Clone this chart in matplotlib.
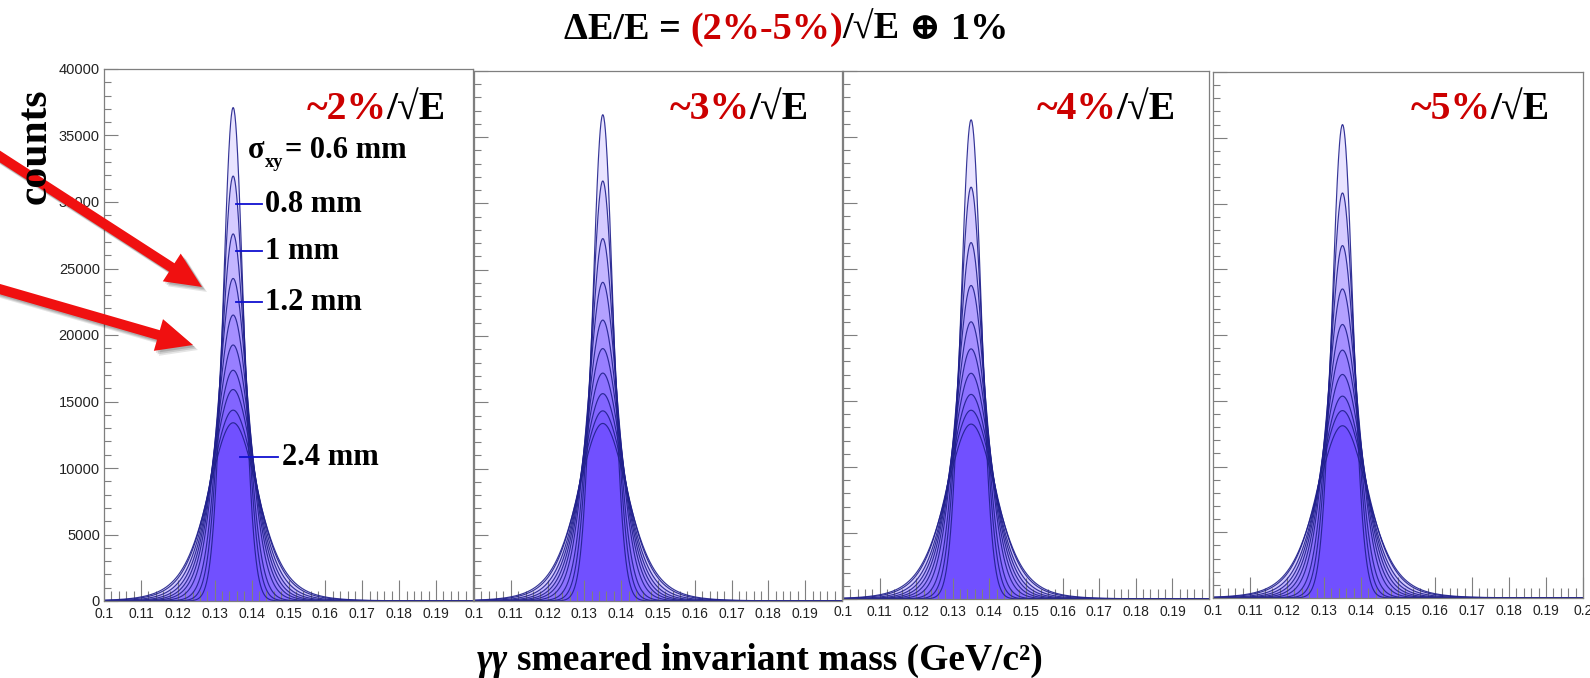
import numpy as np
import matplotlib
matplotlib.use("Agg")
import matplotlib.pyplot as plt
from matplotlib.patches import FancyArrow
from matplotlib.ticker import FixedLocator, MultipleLocator

# ---------------- data ----------------
pi0_mass = 0.135                        # GeV/c^2, peak position
mass_axis = np.linspace(0.1, 0.2, 1001)  # histogram x axis
sigma_xy_mm = ["0.6", "0.8", "1", "1.2", "1.4", "1.6", "1.8", "2.0", "2.2", "2.4"]
resolutions = ["~2%", "~3%", "~4%", "~5%"]

# peak heights (counts) of the ten sigma_xy curves in each panel
peaks_2pct = [37100, 31950, 27600, 24250, 21500, 19250, 17350, 15900, 14350, 13400]
peaks_3pct = [36700, 31700, 27350, 24050, 21200, 19050, 17200, 15650, 14350, 13400]
peaks_4pct = [36300, 31200, 27000, 23750, 21000, 18950, 17100, 15500, 14300, 13250]
peaks_5pct = [36000, 30800, 26800, 23500, 20800, 18850, 17000, 15350, 14250, 13100]

# core widths (GeV/c^2) read from the peak shapes
width_2pct = [0.0027, 0.0031, 0.0035, 0.0040, 0.0044, 0.0048, 0.0052, 0.0056, 0.0061, 0.0064]
width_3pct = [0.00273, 0.00313, 0.00354, 0.00404, 0.00445, 0.00485, 0.00525, 0.00566, 0.00615, 0.00645]
width_4pct = [0.00276, 0.00317, 0.00358, 0.00408, 0.00449, 0.0049, 0.0053, 0.00571, 0.0062, 0.0065]
width_5pct = [0.00279, 0.0032, 0.00361, 0.00412, 0.00453, 0.00494, 0.00535, 0.00577, 0.00626, 0.00656]
# tail heaviness of each curve (large = gaussian-like, small = long tails)
tail_index = [20, 12, 8, 6, 5, 4.5, 4, 3.5, 3.2, 3]

xtick_values = [0.10, 0.11, 0.12, 0.13, 0.14, 0.15, 0.16, 0.17, 0.18, 0.19, 0.20]
xtick_labels = ["0.1", "0.11", "0.12", "0.13", "0.14", "0.15", "0.16", "0.17", "0.18", "0.19", "0.2"]
ytick_values = [0, 5000, 10000, 15000, 20000, 25000, 30000, 35000, 40000]

# ---------------- figure ----------------
W, H = 1590, 678
fig = plt.figure(figsize=(W / 100, H / 100), dpi=100)
SERIF = ["Liberation Serif", "DejaVu Serif"]
SANS = ["Liberation Sans", "DejaVu Sans"]

panel_px = [(104, 69, 473, 601), (474, 71, 842, 601),
            (843, 71, 1209, 599), (1213, 72, 1583, 598)]
label_margin = [27, 33, 33, 33]

all_peaks = [peaks_2pct, peaks_3pct, peaks_4pct, peaks_5pct]
all_widths = [width_2pct, width_3pct, width_4pct, width_5pct]

FILL = (0.19, 0.0, 1.0)
EDGE = "#20208c"
AXCOL = "#7f7f7f"

axes = []
for i, (l, t, r, b) in enumerate(panel_px):
    ax = fig.add_axes([l / W, 1 - b / H, (r - l) / W, (b - t) / H])
    axes.append(ax)
    for pk, sg, m in zip(all_peaks[i], all_widths[i], tail_index):
        y = pk * (1 + ((mass_axis - pi0_mass) / sg) ** 2 / (2 * m)) ** (-m)
        ax.fill_between(mass_axis, 0, y, color=FILL, alpha=0.105, lw=0)
        ax.plot(mass_axis, y, color=EDGE, lw=0.85, alpha=0.9)
    ax.set_xlim(0.1, 0.2)
    ax.set_ylim(0, 40000)
    ax.xaxis.set_major_locator(FixedLocator(xtick_values))
    labels = list(xtick_labels)
    if i < 3:
        labels[-1] = ""
    ax.set_xticklabels(labels)
    ax.xaxis.set_minor_locator(MultipleLocator(0.002))
    ax.yaxis.set_major_locator(FixedLocator(ytick_values))
    ax.yaxis.set_minor_locator(MultipleLocator(1000))
    ax.tick_params(axis="x", which="major", direction="in", length=15, width=0.8,
                   color=AXCOL, pad=4, labelsize=10, labelcolor="#222222")
    ax.tick_params(axis="x", which="minor", direction="in", length=7.5, width=0.8, color=AXCOL)
    ax.tick_params(axis="y", which="major", direction="in", length=10, width=0.8,
                   color=AXCOL, pad=3, labelsize=10.5, labelcolor="#222222")
    ax.tick_params(axis="y", which="minor", direction="in", length=5, width=0.8, color=AXCOL)
    if i > 0:
        ax.set_yticklabels([])
    else:
        ax.set_yticklabels([str(v) for v in ytick_values])
    for lab in ax.get_xticklabels() + ax.get_yticklabels():
        lab.set_family(SANS)
    for sp in ax.spines.values():
        sp.set_color(AXCOL)
        sp.set_linewidth(0.9)

# ---------------- overlay (pixel coordinates) ----------------
over = fig.add_axes([0, 0, 1, 1], zorder=20)
over.set_xlim(0, W)
over.set_ylim(H, 0)
over.axis("off")
over.patch.set_visible(False)

renderer = fig.canvas.get_renderer()


def rich_text(x, y, parts, size, ha="left"):
    """parts: (string, color, style, gap_before_em, size_factor, dy_px)"""
    items = []
    for s, c, st, gap, sf, dy in parts:
        t = over.text(0, y + dy, s, fontsize=size * sf, color=c, fontstyle=st,
                      fontweight="bold", family=SERIF, va="baseline", ha="left")
        w = t.get_window_extent(renderer).width
        items.append((t, w, gap * size * 100 / 72))
    total = sum(w + g for _, w, g in items)
    pos = x - total if ha == "right" else (x - total / 2 if ha == "center" else x)
    for t, w, g in items:
        pos += g
        t.set_x(pos)
        pos += w


RED = "#cc0000"
# title
rich_text(786, 39, [("\u0394E/E =", "black", "normal", 0, 1, 0),
                    ("(2%-5%)", RED, "normal", 0.25, 1, 0),
                    ("/\u221aE", "black", "normal", 0, 1, 0),
                    ("\u2295", "black", "normal", 0.25, 1, 0),
                    ("1%", "black", "normal", 0.25, 1, 0)], 27.5, ha="center")

# panel labels
for (l, t, r, b), res, mg in zip(panel_px, resolutions, label_margin):
    rich_text(r - mg, 119, [(res, RED, "normal", 0, 1, 0),
                            ("/\u221aE", "black", "normal", 0, 1, 0)], 28.5, ha="right")

# sigma labels in panel 1
rich_text(248, 158, [("\u03c3", "black", "normal", 0, 1, 0),
                     ("xy", "black", "normal", 0, 0.6, 9),
                     ("= 0.6 mm", "black", "normal", 0.05, 1, 0)], 22)
label_rows = [("0.8 mm", 204, 236, 262, 265), ("1 mm", 251, 236, 262, 265),
              ("1.2 mm", 302, 236, 262, 265), ("2.4 mm", 457, 240, 278, 282)]
for txt, yy, x0, x1, xt in label_rows:
    over.plot([x0, x1], [yy, yy], color="#1010d0", lw=1.3)
    rich_text(xt, yy + 8, [(txt, "black", "normal", 0, 1, 0)], 22)

# y-axis title
over.text(36, 146, "counts", rotation=90, fontsize=30, fontweight="bold",
          family=SERIF, ha="center", va="center")

# x-axis title
rich_text(760, 670, [("\u03b3\u03b3", "black", "italic", 0, 1, 0),
                     ("smeared invariant mass (GeV/c\u00b2)", "black", "normal", 0.25, 1, 0)],
          27, ha="center")

# red arrows with soft shadow
arrows = [((-4, 154), (202, 287)), ((-4, 288), (193, 345))]
for (x0, y0), (x1, y1) in arrows:
    for k, a in [(5, 0.10), (3.5, 0.12), (2, 0.14)]:
        over.add_patch(FancyArrow(x0 + k, y0 + k, x1 - x0, y1 - y0, width=10,
                                  head_width=33, head_length=36,
                                  length_includes_head=True, color="black",
                                  alpha=a, lw=0))
    over.add_patch(FancyArrow(x0, y0, x1 - x0, y1 - y0, width=10, head_width=33,
                              head_length=36, length_includes_head=True,
                              color="#f01010", lw=0))

fig.savefig("out.png", dpi=100)
